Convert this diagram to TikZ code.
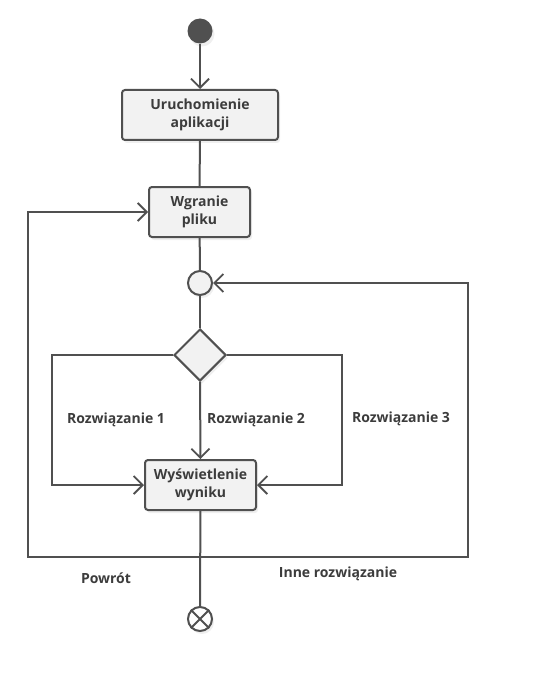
\documentclass[tikz,border=0pt]{standalone}
\usepackage{fontspec}
\setmainfont{Open Sans}
\usetikzlibrary{arrows.meta,shapes.geometric,shadows}
\definecolor{ln}{HTML}{505050}
\definecolor{bx}{HTML}{F2F2F2}
\definecolor{tx}{HTML}{3C3C3C}
\begin{document}
\begin{tikzpicture}[x=1pt,y=-1pt,
  font=\fontsize{14}{17.5}\selectfont\bfseries,
  every node/.style={text=tx},
  act/.style={draw=ln,fill=bx,line width=2pt,rounded corners=3pt,minimum height=50pt,align=center,inner sep=2pt,
    drop shadow={opacity=0.12,shadow xshift=2pt,shadow yshift=-3pt}},
  conn/.style={draw=ln,line width=2pt},
  arr/.style={conn,-{Straight Barb[length=9pt,width=18pt,line width=1.8pt]}},
  lbl/.style={inner sep=0pt}]
\useasboundingbox (0,0) rectangle (557,687);
\fill[white] (0,0) rectangle (557,687);
\node[circle,fill=ln,minimum size=25pt,inner sep=0pt,drop shadow={opacity=0.12,shadow xshift=2pt,shadow yshift=-3pt}] (start) at (200,31) {};
\node[act,minimum width=156pt] (uruch) at (200,115) {Uruchomienie\\aplikacji};
\node[act,minimum width=101pt] (wgr) at (199.5,212) {Wgranie\\pliku};
\node[circle,draw=ln,fill=bx,line width=2pt,minimum size=24pt,inner sep=0pt,drop shadow={opacity=0.12,shadow xshift=2pt,shadow yshift=-3pt}] (merge) at (200,283) {};
\node[diamond,draw=ln,fill=bx,line width=2pt,minimum size=52pt,inner sep=0pt,drop shadow={opacity=0.12,shadow xshift=2pt,shadow yshift=-3pt}] (dec) at (200,355) {};
\node[act,minimum width=111pt] (wys) at (200.5,485) {Wyświetlenie\\wyniku};
\node[circle,draw=ln,fill=white,line width=2pt,minimum size=24pt,inner sep=0pt,drop shadow={opacity=0.12,shadow xshift=2pt,shadow yshift=-3pt}] (end) at (200,619) {};
\draw[conn] (end.north east) -- (end.south west) (end.north west) -- (end.south east);

\coordinate (l1) at (52,355);
\coordinate (l2) at (52,485);
\coordinate (r1) at (342,355);
\coordinate (r2) at (342,485);
\coordinate (split) at (200,557);
\coordinate (pl1) at (28,557);
\coordinate (pl2) at (28,212);
\coordinate (pr1) at (468,557);
\coordinate (pr2) at (468,283);

\draw[arr] (start) -- (uruch);
\draw[conn] (uruch) -- (wgr);
\draw[conn] (wgr) -- (merge);
\draw[conn] (merge) -- (dec);
\draw[arr] (dec.west) -- (l1) -- (l2) -- (wys.west);
\draw[arr] (dec.east) -- (r1) -- (r2) -- (wys.east);
\draw[arr] (dec.south) -- (wys.north);
\draw[conn] (wys) -- (end);
\draw[arr] (split) -- (pl1) -- (pl2) -- (wgr.west);
\draw[arr] (split) -- (pr1) -- (pr2) -- (merge.east);

\node[lbl] (t1) at (116,420) {Rozwiązanie 1};
\node[lbl] (t2) at (256,420) {Rozwiązanie 2};
\node[lbl] (t3) at (401,419) {Rozwiązanie 3};
\node[lbl] (t4) at (106,578) {Powrót};
\node[lbl] (t5) at (338,574) {Inne rozwiązanie};
\end{tikzpicture}
\end{document}
